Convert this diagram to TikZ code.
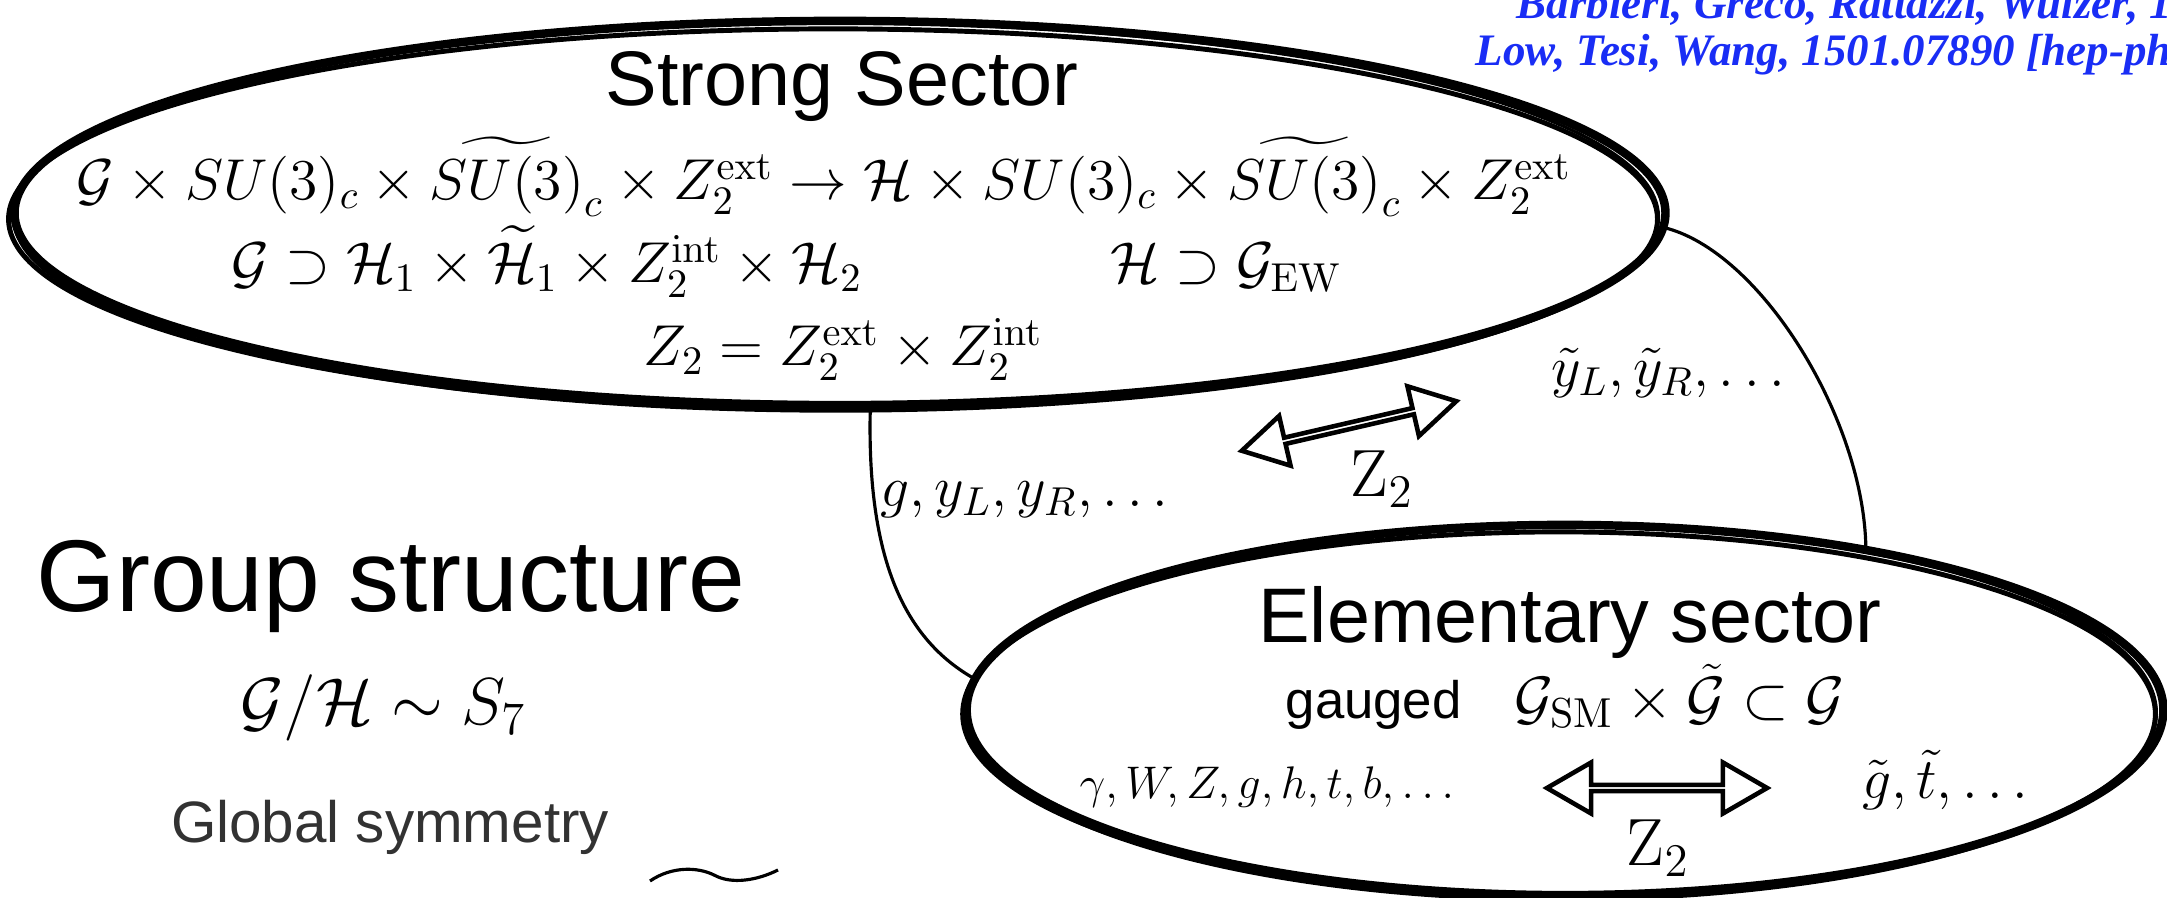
\RequirePackage{fix-cm}
\documentclass[tikz,border=0pt]{standalone}
\usepackage{amsmath}
\usepackage[no-math]{fontspec}
\setmainfont{Liberation Sans}
\newfontfamily\citefont{Liberation Serif}
\usepackage{xcolor}
\usepackage{tikz}
\usetikzlibrary{positioning,shapes.geometric,shapes.arrows}
\definecolor{citeblue}{RGB}{25,45,245}
\definecolor{softgray}{RGB}{50,50,50}

\begin{document}
\begin{tikzpicture}[x=0.01cm, y=-0.01cm,
  sector/.style={draw, ellipse, line width=2.4pt, inner sep=0pt, outer sep=0pt},
  rough/.style={line width=0.9pt},
  tube/.style={line width=0.9pt},
  txt/.style={anchor=base, inner sep=0.5pt},
  title/.style={txt, font=\fontsize{22}{26}\selectfont},
  eq/.style={txt, font=\fontsize{16.4}{19}\selectfont},
  zlab/.style={txt, font=\fontsize{19}{22}\selectfont},
  swap/.style={draw, double arrow, fill=white, line width=1.3pt, double arrow tip angle=60,
    double arrow head extend=0.16cm, minimum width=0.51cm, minimum height=2.2cm, inner sep=0pt},
  ref/.style={font=\citefont\fontsize{12.8}{15}\selectfont\bfseries\itshape, text=citeblue, anchor=base west, inner sep=0pt}
]
\useasboundingbox (0,0) rectangle (2167,898);
\clip (0,0) rectangle (2167,898);
% the two sectors
\node[sector, minimum width=16.5cm, minimum height=3.84cm] (strong) at (840,213) {};
\node[sector, minimum width=11.96cm, minimum height=3.7cm] (elem) at (1565,710) {};
\draw[rough] (836,217) ellipse [x radius=8.22cm, y radius=1.94cm];
\draw[rough, line width=1.4pt] (833,219) ellipse [x radius=8.24cm, y radius=1.9cm];
\draw[rough] (1561,713) ellipse [x radius=5.95cm, y radius=1.87cm];
\draw[rough, line width=1.4pt] (1559,714) ellipse [x radius=5.96cm, y radius=1.82cm];
\draw[tube] (strong.-81) .. controls (866,560) and (905,640) .. (elem.177);
\draw[tube] (strong.-1) .. controls (1760,250) and (1865,420) .. (elem.28);
% strong sector
\node[title] (stitle) at (842,106) {Strong Sector};
\node[eq] (breaking) at (824,200) {$\mathcal{G}\times SU(3)_c\times\widetilde{SU(3)}_c\times Z_2^{\mathrm{ext}}\to\mathcal{H}\times SU(3)_c\times\widetilde{SU(3)}_c\times Z_2^{\mathrm{ext}}$};
\node[eq] (subg) at (547,283) {$\mathcal{G}\supset\mathcal{H}_1\times\widetilde{\mathcal{H}}_1\times Z_2^{\mathrm{int}}\times\mathcal{H}_2$};
\node[eq] (subh) at (1226,283) {$\mathcal{H}\supset\mathcal{G}_{\mathrm{EW}}$};
\node[eq] (zprod) at (843,366) {$Z_2=Z_2^{\mathrm{ext}}\times Z_2^{\mathrm{int}}$};
% between the sectors
\node[eq] (twin) at (1673,387) {$\tilde{y}_L,\tilde{y}_R,\dots$};
\node[eq, anchor=base west] (comp) at (878,507) {$g,y_L,y_R,\dots$};
\node[swap, rotate=13] (mixtop) at (1349,426) {};
\node[zlab] (ztop) at (1382,497) {$\mathrm{Z}_2$};
% left column
\node[txt, font=\fontsize{29}{34}\selectfont] (group) at (391,612) {Group structure};
\node[txt, font=\fontsize{18.9}{22}\selectfont] (coset) at (383,725) {$\mathcal{G}/\mathcal{H}\sim S_7$};
\node[txt, font=\fontsize{16.6}{20}\selectfont, text=softgray] (global) at (390,843) {Global symmetry};
\draw[tube] (650,881) .. controls (672,866) and (698,867) .. (714,875) .. controls (732,885) and (758,880) .. (778,870);
% elementary sector
\node[title] (etitle) at (1570,643) {Elementary sector};
\node[txt, font=\fontsize{15}{18}\selectfont] (gauge) at (1565,719) {gauged\quad{\fontsize{17}{20}\selectfont$\mathcal{G}_{\mathrm{SM}}\times\tilde{\mathcal{G}}\subset\mathcal{G}$}};
\node[txt, font=\fontsize{13}{16}\selectfont] (smfields) at (1271,799) {$\gamma,W,Z,g,h,t,b,\dots$};
\node[swap] (mixbot) at (1657,788) {};
\node[zlab] (zbot) at (1658,866) {$\mathrm{Z}_2$};
\node[eq] (partners) at (1950,799) {$\tilde{g},\tilde{t},\dots$};
% references
\node[ref] (cite1) at (1516,19) {Barbieri, Greco, Rattazzi, Wulzer, 1501.07803 [hep-ph]};
\node[ref] (cite2) at (1475,66) {Low, Tesi, Wang, 1501.07890 [hep-ph]};
\end{tikzpicture}
\end{document}
